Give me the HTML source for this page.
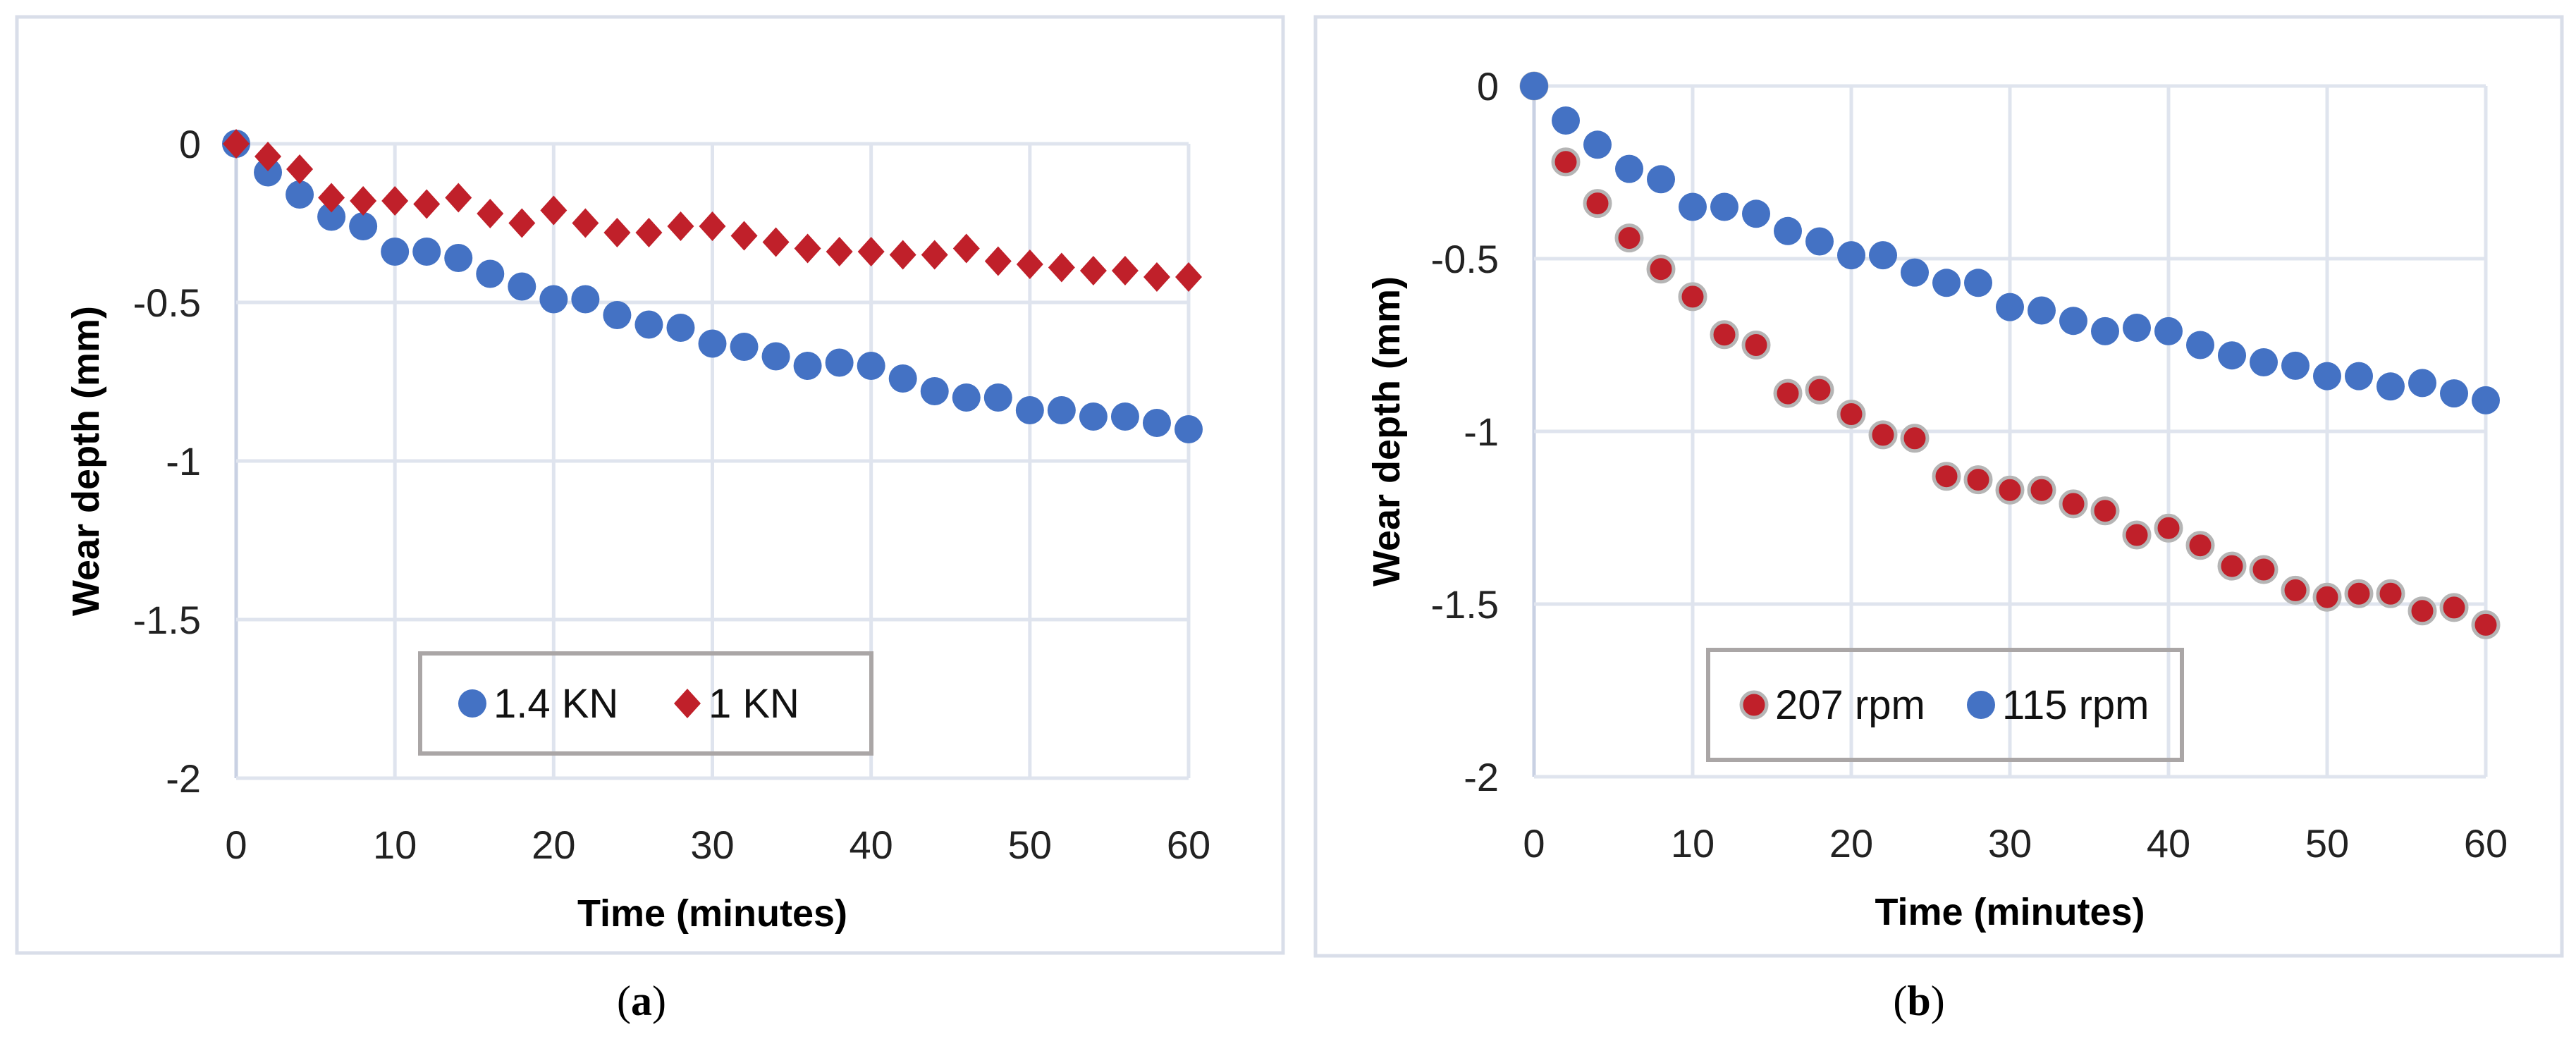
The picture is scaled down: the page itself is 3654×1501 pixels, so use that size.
<!DOCTYPE html>
<html><head><meta charset="utf-8"><style>
html,body{margin:0;padding:0;background:#fff;}
svg{display:block;font-family:"Liberation Sans",sans-serif;}
</style></head><body>
<svg id="fig" width="3654" height="1501" viewBox="0 0 3654 1501" xmlns="http://www.w3.org/2000/svg">
<rect x="24" y="24" width="1796" height="1328" fill="#fff" stroke="#d9dee9" stroke-width="5"/>
<rect x="1866" y="24" width="1768" height="1332" fill="#fff" stroke="#d9dee9" stroke-width="5"/>
<g id="ga"></g>
<g id="gb"></g>
<text x="910" y="1440" font-family="Liberation Serif, serif" font-size="60" text-anchor="middle">(<tspan font-weight="bold">a</tspan>)</text>
<text x="2722" y="1440" font-family="Liberation Serif, serif" font-size="60" text-anchor="middle">(<tspan font-weight="bold">b</tspan>)</text>
</svg>
<script>
const xTicks=[0,10,20,30,40,50,60];
const yTicks=[0,-0.5,-1,-1.5,-2];
const yTickLabels=["0","-0.5","-1","-1.5","-2"];
const times=[0,2,4,6,8,10,12,14,16,18,20,22,24,26,28,30,32,34,36,38,40,42,44,46,48,50,52,54,56,58,60];
const a14kn=[0,-0.09,-0.16,-0.23,-0.26,-0.34,-0.34,-0.36,-0.41,-0.45,-0.49,-0.49,-0.54,-0.57,-0.58,-0.63,-0.64,-0.67,-0.70,-0.69,-0.70,-0.74,-0.78,-0.80,-0.80,-0.84,-0.84,-0.86,-0.86,-0.88,-0.90];
const a1kn=[0,-0.04,-0.08,-0.17,-0.18,-0.18,-0.19,-0.17,-0.22,-0.25,-0.21,-0.25,-0.28,-0.28,-0.26,-0.26,-0.29,-0.31,-0.33,-0.34,-0.34,-0.35,-0.35,-0.33,-0.37,-0.38,-0.39,-0.40,-0.40,-0.42,-0.42];
const b207=[0,-0.22,-0.34,-0.44,-0.53,-0.61,-0.72,-0.75,-0.89,-0.88,-0.95,-1.01,-1.02,-1.13,-1.14,-1.17,-1.17,-1.21,-1.23,-1.30,-1.28,-1.33,-1.39,-1.40,-1.46,-1.48,-1.47,-1.47,-1.52,-1.51,-1.56];
const b115=[0,-0.10,-0.17,-0.24,-0.27,-0.35,-0.35,-0.37,-0.42,-0.45,-0.49,-0.49,-0.54,-0.57,-0.57,-0.64,-0.65,-0.68,-0.71,-0.70,-0.71,-0.75,-0.78,-0.80,-0.81,-0.84,-0.84,-0.87,-0.86,-0.89,-0.91];

const NS="http://www.w3.org/2000/svg";
function mk(tag,attrs,parent){const e=document.createElementNS(NS,tag);for(const k in attrs)e.setAttribute(k,attrs[k]);parent.appendChild(e);return e;}
const BLUE="#4472c4",RED="#c0202a";

function chart(g,cfg){
  const sx=v=>cfg.x0+(v-0)/60*(cfg.x1-cfg.x0);
  const sy=v=>cfg.y0+(v-0)/(-2)*(cfg.y1-cfg.y0);
  xTicks.forEach(t=>{
    const l=mk('line',{x1:sx(t),x2:sx(t),y1:cfg.y0,y2:cfg.y1,stroke:t===0?'#c9d1e3':'#dfe4ee','stroke-width':5},g);
    
    
    const tx=mk('text',{x:sx(t),y:cfg.y1+114,'font-size':56,'text-anchor':'middle',fill:'#222'},g);
    tx.textContent=t;
    
    
  });
  yTicks.forEach((t,i)=>{
    const l=mk('line',{x1:cfg.x0,x2:cfg.x1,y1:sy(t),y2:sy(t),stroke:'#dfe4ee','stroke-width':5},g);
    
    
    const tx=mk('text',{x:cfg.x0-50,y:sy(t)+20,'font-size':56,'text-anchor':'end',fill:'#222'},g);
    tx.textContent=yTickLabels[i];
    
    
  });
  const xt=mk('text',{x:(cfg.x0+cfg.x1)/2,y:cfg.y1+210,'font-size':54,'font-weight':'bold','text-anchor':'middle'},g);
  xt.textContent='Time (minutes)';
  
  
  const yt=mk('text',{x:0,y:0,'font-size':54,'font-weight':'bold','text-anchor':'middle',transform:`translate(${cfg.ytx},${(cfg.y0+cfg.y1)/2}) rotate(-90)`},g);
  yt.textContent='Wear depth (mm)';
  
  
  const lg=mk('g',{},g);
  
  
  mk('rect',{x:cfg.lg[0],y:cfg.lg[1],width:cfg.lg[2],height:cfg.lg[3],fill:'none',stroke:'#aaa6a6','stroke-width':6},lg);
  cfg.series.forEach(s=>{
    const sg=mk('g',{},g);
    
    
    times.forEach((t,i)=>{drawMark(sg,s,sx(t),sy(s.data[i]),s.name+'-point');});
    const ent=mk('g',{},lg);
    
    
    drawMark(ent,s,s.lx,cfg.lg[1]+cfg.lg[3]/2,'legend-marker');
    const lt=mk('text',{x:s.lx+30,y:cfg.lg[1]+cfg.lg[3]/2+20,'font-size':58,fill:'#111'},ent);
    lt.textContent=s.label;
  });
}
function drawMark(parent,s,x,y,name){
  let m;
  if(s.shape==='diamond'){
    m=mk('polygon',{points:`${x},${y-21} ${x+19},${y} ${x},${y+21} ${x-19},${y}`,fill:RED},parent);
  }else if(s.shape==='redcircle'){
    m=mk('circle',{cx:x,cy:y,r:18,fill:RED,stroke:'#b5b5b5','stroke-width':5},parent);
  }else{
    m=mk('circle',{cx:x,cy:y,r:20,fill:BLUE},parent);
  }
  
  
}
chart(document.getElementById('ga'),{x0:335,x1:1686,y0:204,y1:1104,ytx:140,lg:[596,927,640,142],
  series:[{name:'1-4-kn',label:'1.4 KN',shape:'circle',data:a14kn,lx:670},{name:'1-kn',label:'1 KN',shape:'diamond',data:a1kn,lx:975}]});
chart(document.getElementById('gb'),{x0:2176,x1:3526,y0:122,y1:1102,ytx:1985,lg:[2423,922,672,156],
  series:[{name:'207-rpm',label:'207 rpm',shape:'redcircle',data:b207,lx:2488},{name:'115-rpm',label:'115 rpm',shape:'circle',data:b115,lx:2810}]});
</script>
</body></html>
